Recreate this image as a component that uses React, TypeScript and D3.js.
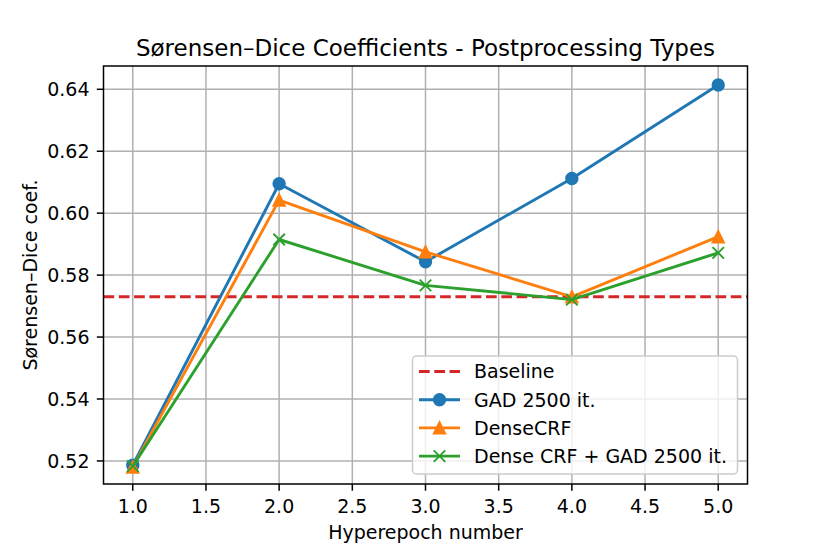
import React from "react"
import { scaleLinear, line, range } from "d3"

const epochs = [1, 2, 3, 4, 5]
const gadValues = [0.5186, 0.6095, 0.5843, 0.6112, 0.6414]
const denseCrfValues = [0.518, 0.6042, 0.5875, 0.573, 0.5924]
const denseGadValues = [0.5183, 0.5915, 0.5767, 0.5721, 0.5872]
const baseline = 0.573

const xTicks = [1.0, 1.5, 2.0, 2.5, 3.0, 3.5, 4.0, 4.5, 5.0]
const yTicks = [0.52, 0.54, 0.56, 0.58, 0.6, 0.62, 0.64]

const legendLabels = ["Baseline", "GAD 2500 it.", "DenseCRF", "Dense CRF + GAD 2500 it."]

const BLUE = "#1f77b4"
const ORANGE = "#ff7f0e"
const GREEN = "#2ca02c"
const RED = "#d62728"

const FONT = "DejaVu Sans, sans-serif"

type Marker = "circle" | "triangle" | "x"

// markers: 6pt size + 1pt edge, like matplotlib at ~138 dpi
const drawMarker = (kind: Marker, cx: number, cy: number, color: string, key: string) => {
  const s = 5.75
  if (kind === "circle") {
    return <circle key={key} cx={cx} cy={cy} r={s} fill={color} stroke={color} strokeWidth={1.9} />
  }
  if (kind === "triangle") {
    return (
      <path
        key={key}
        d={`M${cx},${cy - s} L${cx + s},${cy + s} L${cx - s},${cy + s} Z`}
        fill={color}
        stroke={color}
        strokeWidth={1.9}
        strokeLinejoin="miter"
      />
    )
  }
  return (
    <path
      key={key}
      d={`M${cx - s},${cy - s} L${cx + s},${cy + s} M${cx - s},${cy + s} L${cx + s},${cy - s}`}
      stroke={color}
      strokeWidth={1.9}
      fill="none"
    />
  )
}

const App = () => {
  const width = 830
  const height = 554
  const margin = { top: 66, right: 830 - 747.5, bottom: 554 - 484, left: 103.5 }

  const xScale = scaleLinear().domain([0.8, 5.2]).range([margin.left, width - margin.right])
  const yScale = scaleLinear()
    .domain([0.51255, 0.64752])
    .range([height - margin.bottom, margin.top])

  const x0 = margin.left
  const x1 = width - margin.right
  const y0 = margin.top
  const y1 = height - margin.bottom

  const series = [
    { values: gadValues, color: BLUE, marker: "circle" as Marker },
    { values: denseCrfValues, color: ORANGE, marker: "triangle" as Marker },
    { values: denseGadValues, color: GREEN, marker: "x" as Marker },
  ]

  const lineGen = line<number>()
    .x((_, i) => xScale(epochs[i]))
    .y((d) => yScale(d))

  // legend geometry
  const legend = { x: 412.5, y: 356, w: 325, h: 118 }
  const rowY = range(4).map((i) => 371.5 + i * 28.2)

  return (
    <div style={{ position: "absolute", left: 0, top: 0 }}>
      <svg width={width} height={height} style={{ display: "block", background: "#fff" }}>
        <defs>
          <clipPath id="plot-clip">
            <rect x={x0} y={y0} width={x1 - x0} height={y1 - y0} />
          </clipPath>
        </defs>

        {/* grid */}
        <g stroke="#b0b0b0" strokeWidth={1.5}>
          {xTicks.map((t) => (
            <line key={`gx${t}`} x1={xScale(t)} x2={xScale(t)} y1={y0} y2={y1} />
          ))}
          {yTicks.map((t) => (
            <line key={`gy${t}`} x1={x0} x2={x1} y1={yScale(t)} y2={yScale(t)} />
          ))}
        </g>

        {/* data */}
        <g clipPath="url(#plot-clip)">
          <line
            x1={x0}
            x2={x1}
            y1={yScale(baseline)}
            y2={yScale(baseline)}
            stroke={RED}
            strokeWidth={2.9}
            strokeDasharray="10.7 4.6"
          />
        </g>
        {series.map((s, si) => (
          <g key={`s${si}`}>
            <path d={lineGen(s.values) ?? ""} fill="none" stroke={s.color} strokeWidth={2.9} strokeLinejoin="round" />
            {s.values.map((v, i) => drawMarker(s.marker, xScale(epochs[i]), yScale(v), s.color, `m${si}-${i}`))}
          </g>
        ))}

        {/* spines */}
        <rect x={x0} y={y0} width={x1 - x0} height={y1 - y0} fill="none" stroke="#000" strokeWidth={1.5} />

        {/* axes */}
        <g fontFamily={FONT} fontSize={19} fill="#000">
          {xTicks.map((t) => (
            <g key={`xt${t}`}>
              <line x1={xScale(t)} x2={xScale(t)} y1={y1} y2={y1 + 6.7} stroke="#000" strokeWidth={1.5} />
              <text x={xScale(t)} y={512.5} textAnchor="middle">
                {t.toFixed(1)}
              </text>
            </g>
          ))}
          {yTicks.map((t) => (
            <g key={`yt${t}`}>
              <line x1={x0 - 6.7} x2={x0} y1={yScale(t)} y2={yScale(t)} stroke="#000" strokeWidth={1.5} />
              <text x={89.5} y={yScale(t)} dy="0.36em" textAnchor="end">
                {t.toFixed(2)}
              </text>
            </g>
          ))}
          <text x={(x0 + x1) / 2} y={539} textAnchor="middle">
            Hyperepoch number
          </text>
          <text
            transform={`translate(36.5, ${(y0 + y1) / 2}) rotate(-90)`}
            textAnchor="middle"
          >
            Sørensen–Dice coef.
          </text>
          <text x={(x0 + x1) / 2} y={56} textAnchor="middle" fontSize={23}>
            Sørensen–Dice Coefficients - Postprocessing Types
          </text>
        </g>

        {/* legend */}
        <g fontFamily={FONT} fontSize={19}>
          <rect
            x={legend.x}
            y={legend.y}
            width={legend.w}
            height={legend.h}
            rx={4}
            fill="#fff"
            fillOpacity={0.8}
            stroke="#cccccc"
            strokeWidth={1.5}
          />
          <line
            x1={419}
            x2={460}
            y1={rowY[0]}
            y2={rowY[0]}
            stroke={RED}
            strokeWidth={2.9}
            strokeDasharray="10.7 4.6"
          />
          {series.map((s, si) => (
            <g key={`l${si}`}>
              <line x1={419} x2={460} y1={rowY[si + 1]} y2={rowY[si + 1]} stroke={s.color} strokeWidth={2.9} />
              {drawMarker(s.marker, 439.5, rowY[si + 1], s.color, `lm${si}`)}
            </g>
          ))}
          {legendLabels.map((label, i) => (
            <text key={label} x={474} y={rowY[i]} dy="0.36em" fill="#000">
              {label}
            </text>
          ))}
        </g>
      </svg>
    </div>
  )
}

export default App
